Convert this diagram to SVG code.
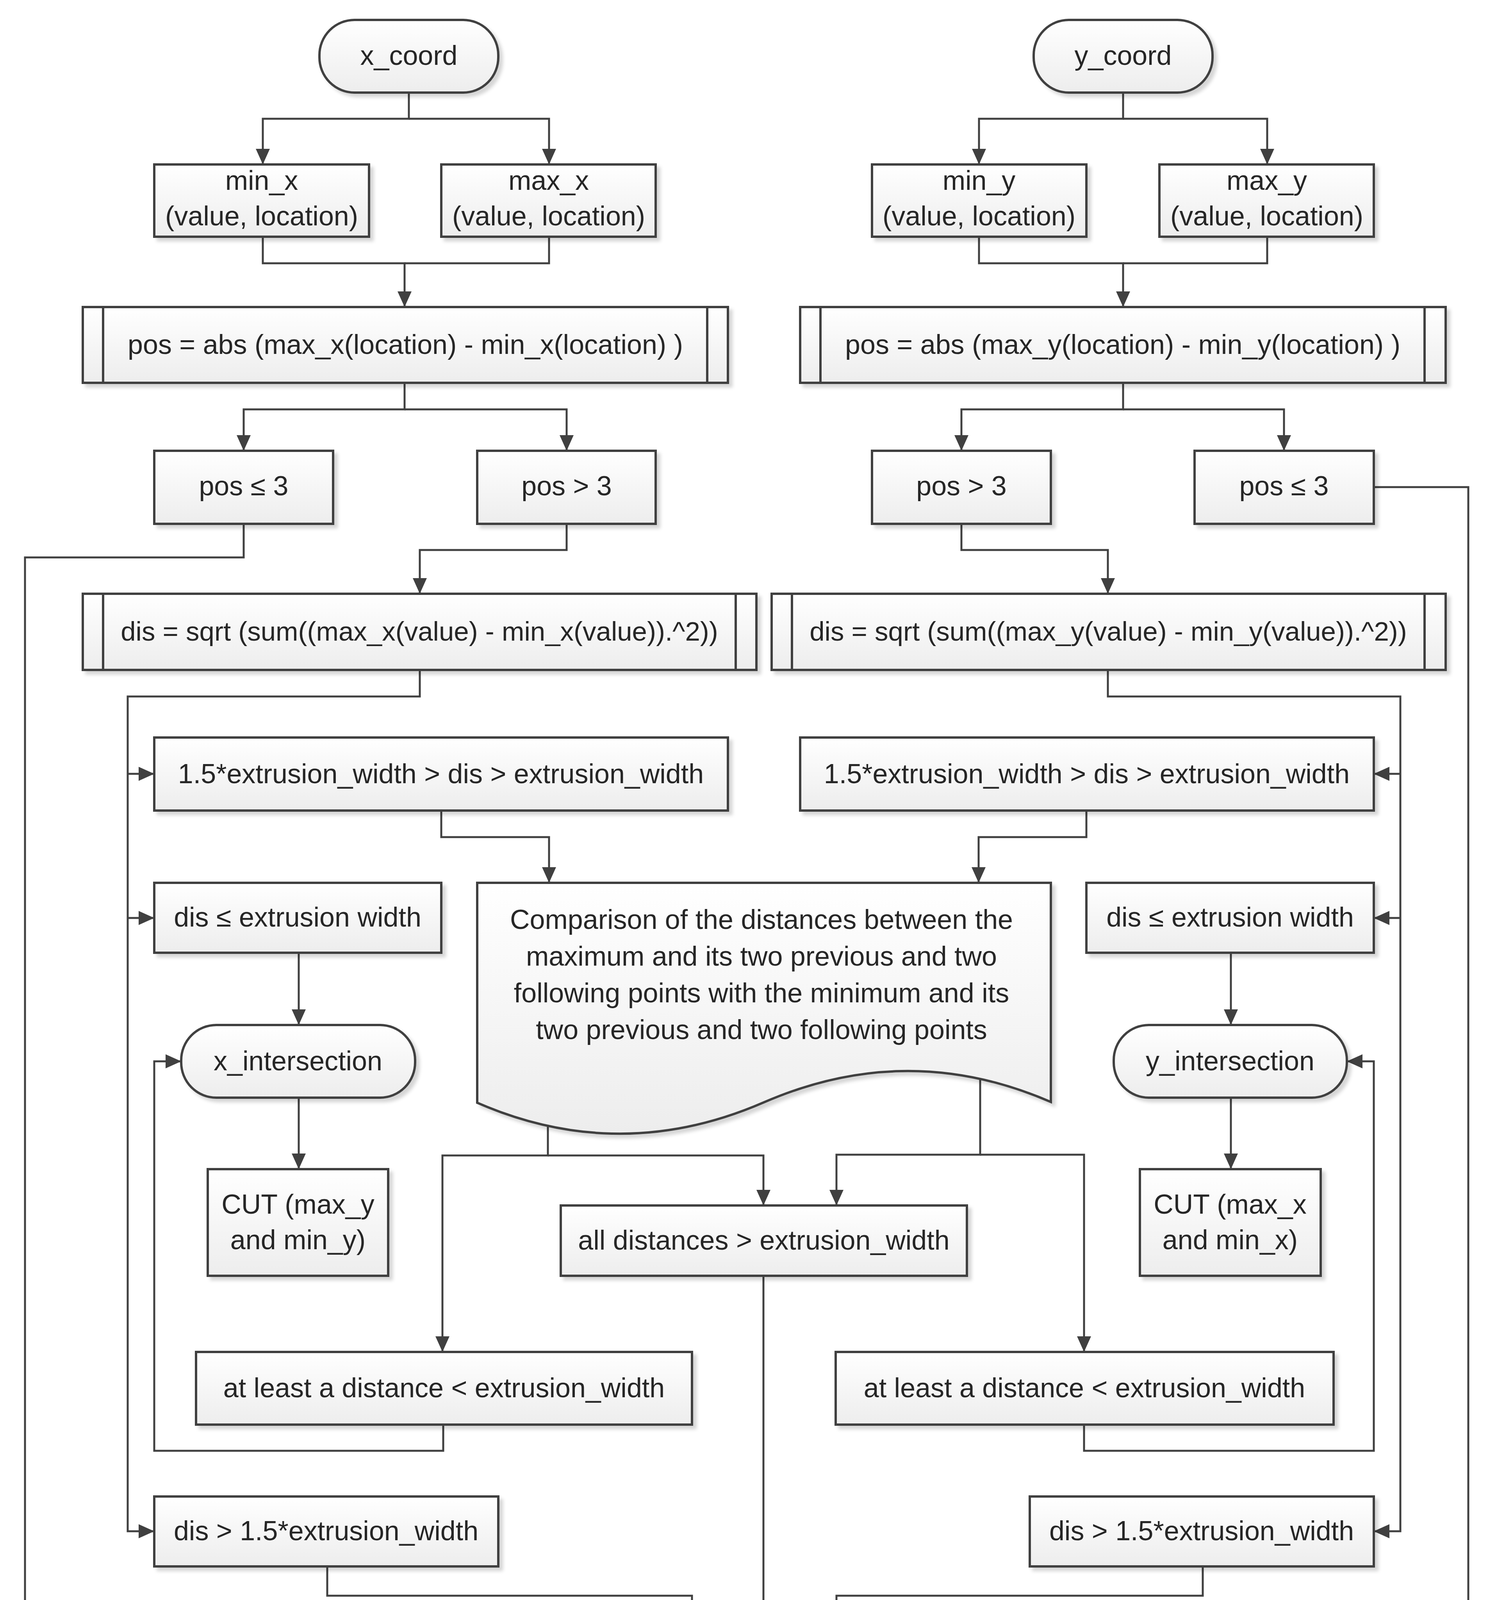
<svg xmlns="http://www.w3.org/2000/svg" width="3813" height="4511" viewBox="0 0 3813 4511">
<style>
.n{fill:url(#g);stroke:#404040;stroke-width:6;filter:url(#sh)}
.il{stroke:#404040;stroke-width:6;fill:none}
.t{font-family:"Liberation Sans",Arial,sans-serif;font-size:70px;fill:#262626;text-anchor:middle}
.s{font-size:69px}
.c{fill:none;stroke:#404040;stroke-width:5;stroke-linejoin:miter}
.a{marker-end:url(#arr)}
</style>
<defs>
<linearGradient id="g" x1="0" y1="0" x2="0" y2="1">
<stop offset="0" stop-color="#ffffff"/>
<stop offset="1" stop-color="#ededed"/>
</linearGradient>
<filter id="sh" x="-5%" y="-5%" width="115%" height="130%">
<feDropShadow dx="9" dy="9" stdDeviation="4" flood-color="#000" flood-opacity="0.16"/>
</filter>
<marker id="arr" viewBox="0 0 40 36" refX="40" refY="18" markerWidth="40" markerHeight="36" markerUnits="userSpaceOnUse" orient="auto">
<path d="M0,0 L40,18 L0,36 Z" fill="#404040"/>
</marker>
</defs>
<rect width="3813" height="4511" fill="#ffffff"/>

<g id="connectors">
<path class="c a" d="M1047,237 V304 H673 V421"/>
<path class="c a" d="M1047,304 H1406 V421"/>
<path class="c a" d="M673,606 V674 H1036 V786"/>
<path class="c" d="M1406,606 V674 H1036"/>
<path class="c a" d="M1036,980 V1048 H624 V1154"/>
<path class="c a" d="M1036,1048 H1451 V1154"/>
<path class="c a" d="M624,1341 V1427 H64 V4382 H1658"/>
<path class="c a" d="M1451,1341 V1408 H1075 V1520"/>
<path class="c a" d="M1075,1715 V1783 H327 V3920 H395"/>
<path class="c a" d="M327,1981 H395"/>
<path class="c a" d="M327,2350 H395"/>
<path class="c a" d="M1130,2075 V2143 H1406 V2260"/>
<path class="c a" d="M765,2439 V2624"/>
<path class="c a" d="M765,2810 V2993"/>
<path class="c a" d="M1403,2882 V2958 H1133 V3461"/>
<path class="c a" d="M1403,2958 H1955 V3086"/>
<path class="c a" d="M2510,2752 V2956 H2142 V3086"/>
<path class="c a" d="M2510,2956 H2776 V3461"/>
<path class="c a" d="M1135,3647 V3714 H395 V2717 H464"/>
<path class="c a" d="M838,4010 V4085 H1772 V4287"/>
<path class="c a" d="M1955,3266 V4287"/>
<path class="c a" d="M3080,4010 V4085 H2142 V4287"/>
<path class="c a" d="M2776,3647 V3714 H3518 V2717 H3449"/>
<path class="c a" d="M2876,237 V304 H2507 V421"/>
<path class="c a" d="M2876,304 H3245 V421"/>
<path class="c a" d="M2507,606 V674 H2876 V786"/>
<path class="c" d="M3245,606 V674 H2876"/>
<path class="c a" d="M2876,980 V1048 H2462 V1154"/>
<path class="c a" d="M2876,1048 H3288 V1154"/>
<path class="c a" d="M3518,1247 H3760 V4382 H2254"/>
<path class="c a" d="M2462,1341 V1408 H2837 V1520"/>
<path class="c a" d="M2837,1715 V1783 H3586 V3920 H3518"/>
<path class="c a" d="M3586,1981 H3518"/>
<path class="c a" d="M3586,2350 H3518"/>
<path class="c a" d="M2782,2075 V2143 H2506 V2260"/>
<path class="c a" d="M3152,2439 V2624"/>
<path class="c a" d="M3152,2810 V2993"/>
</g>

<g id="x_coord"><rect class="n" x="818" y="51" width="458" height="186" rx="90" ry="90"/><text class="t" x="1047" y="166">x_coord</text></g>
<g id="y_coord"><rect class="n" x="2647" y="51" width="458" height="186" rx="90" ry="90"/><text class="t" x="2876" y="166">y_coord</text></g>

<g id="min_x"><rect class="n" x="395" y="421" width="550" height="185"/><text class="t" x="670" y="486">min_x</text><text class="t" x="670" y="577">(value, location)</text></g>
<g id="max_x"><rect class="n" x="1130" y="421" width="549" height="185"/><text class="t" x="1405" y="486">max_x</text><text class="t" x="1405" y="577">(value, location)</text></g>
<g id="min_y"><rect class="n" x="2233" y="421" width="549" height="185"/><text class="t" x="2507" y="486">min_y</text><text class="t" x="2507" y="577">(value, location)</text></g>
<g id="max_y"><rect class="n" x="2969" y="421" width="549" height="185"/><text class="t" x="3244" y="486">max_y</text><text class="t" x="3244" y="577">(value, location)</text></g>

<g id="pos_x"><rect class="n" x="212" y="786" width="1652" height="194"/><line class="il" x1="264" y1="786" x2="264" y2="980"/><line class="il" x1="1811" y1="786" x2="1811" y2="980"/><text class="t" x="1038" y="906">pos = abs (max_x(location) - min_x(location) )</text></g>
<g id="pos_y"><rect class="n" x="2049" y="786" width="1653" height="194"/><line class="il" x1="2101" y1="786" x2="2101" y2="980"/><line class="il" x1="3648" y1="786" x2="3648" y2="980"/><text class="t" x="2875" y="906">pos = abs (max_y(location) - min_y(location) )</text></g>

<g id="pos_le3_x"><rect class="n" x="395" y="1154" width="458" height="187"/><text class="t" x="624" y="1268">pos ≤ 3</text></g>
<g id="pos_gt3_x"><rect class="n" x="1222" y="1154" width="457" height="187"/><text class="t" x="1451" y="1268">pos &gt; 3</text></g>
<g id="pos_gt3_y"><rect class="n" x="2233" y="1154" width="458" height="187"/><text class="t" x="2462" y="1268">pos &gt; 3</text></g>
<g id="pos_le3_y"><rect class="n" x="3059" y="1154" width="459" height="187"/><text class="t" x="3288" y="1268">pos ≤ 3</text></g>

<g id="dis_x"><rect class="n" x="212" y="1520" width="1725" height="195"/><line class="il" x1="264" y1="1520" x2="264" y2="1715"/><line class="il" x1="1884" y1="1520" x2="1884" y2="1715"/><text class="t s" x="1074" y="1640">dis = sqrt (sum((max_x(value) - min_x(value)).^2))</text></g>
<g id="dis_y"><rect class="n" x="1976" y="1520" width="1726" height="195"/><line class="il" x1="2028" y1="1520" x2="2028" y2="1715"/><line class="il" x1="3648" y1="1520" x2="3648" y2="1715"/><text class="t s" x="2838" y="1640">dis = sqrt (sum((max_y(value) - min_y(value)).^2))</text></g>

<g id="range_x"><rect class="n" x="395" y="1888" width="1469" height="187"/><text class="t" x="1129" y="2005">1.5*extrusion_width &gt; dis &gt; extrusion_width</text></g>
<g id="range_y"><rect class="n" x="2049" y="1888" width="1469" height="187"/><text class="t" x="2783" y="2005">1.5*extrusion_width &gt; dis &gt; extrusion_width</text></g>

<g id="le_x"><rect class="n" x="395" y="2260" width="735" height="179"/><text class="t" x="762" y="2372">dis ≤ extrusion width</text></g>
<g id="le_y"><rect class="n" x="2782" y="2260" width="736" height="179"/><text class="t" x="3150" y="2372">dis ≤ extrusion width</text></g>

<g id="comparison"><path class="n" d="M1222,2260 H2691 V2821 Q2324,2662 1956,2822 T1222,2823 Z"/>
<text class="t" x="1950" y="2378">Comparison of the distances between the</text>
<text class="t" x="1950" y="2472">maximum and its two previous and two</text>
<text class="t" x="1950" y="2566">following points with the minimum and its</text>
<text class="t" x="1950" y="2660">two previous and two following points</text></g>

<g id="x_intersection"><rect class="n" x="464" y="2624" width="599" height="186" rx="90" ry="90"/><text class="t" x="763" y="2740">x_intersection</text></g>
<g id="y_intersection"><rect class="n" x="2852" y="2624" width="597" height="186" rx="90" ry="90"/><text class="t" x="3150" y="2740">y_intersection</text></g>

<g id="cut_x"><rect class="n" x="532" y="2993" width="462" height="273"/><text class="t" x="763" y="3107">CUT (max_y</text><text class="t" x="763" y="3198">and min_y)</text></g>
<g id="cut_y"><rect class="n" x="2919" y="2993" width="463" height="273"/><text class="t" x="3150" y="3107">CUT (max_x</text><text class="t" x="3150" y="3198">and min_x)</text></g>

<g id="all_distances"><rect class="n" x="1436" y="3086" width="1040" height="180"/><text class="t" x="1956" y="3199">all distances &gt; extrusion_width</text></g>

<g id="atleast_x"><rect class="n" x="502" y="3461" width="1270" height="186"/><text class="t" x="1137" y="3577">at least a distance &lt; extrusion_width</text></g>
<g id="atleast_y"><rect class="n" x="2140" y="3461" width="1275" height="186"/><text class="t" x="2777" y="3577">at least a distance &lt; extrusion_width</text></g>

<g id="gt_x"><rect class="n" x="395" y="3831" width="881" height="179"/><text class="t" x="835" y="3943">dis &gt; 1.5*extrusion_width</text></g>
<g id="gt_y"><rect class="n" x="2637" y="3831" width="881" height="179"/><text class="t" x="3077" y="3943">dis &gt; 1.5*extrusion_width</text></g>

<g id="no_intersection"><rect class="n" x="1658" y="4287" width="596" height="191" rx="92" ry="92"/><text class="t" x="1956" y="4406">no-intersection</text></g>
</svg>
